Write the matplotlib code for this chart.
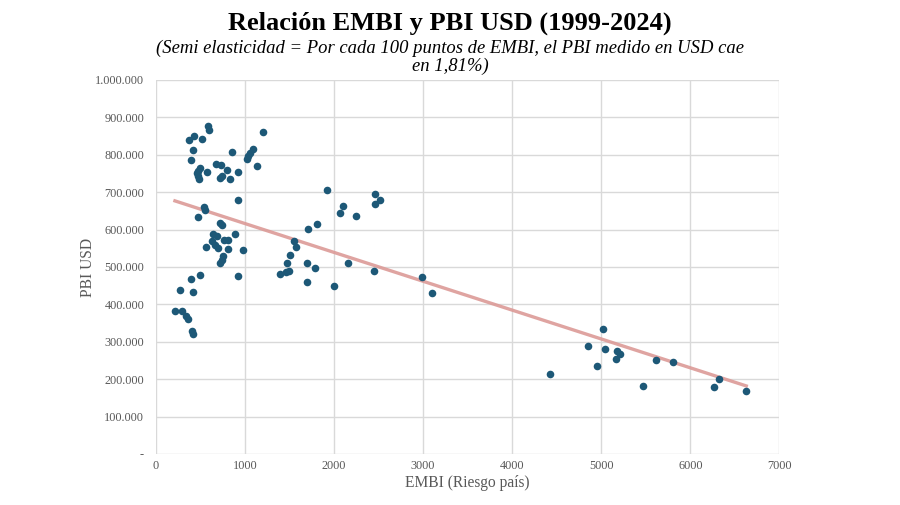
import numpy as np
import matplotlib.pyplot as plt
from matplotlib.ticker import FuncFormatter

# EMBI (puntos) y PBI USD (millones)
embi = [213, 291, 336, 364, 404, 415, 269, 418, 389, 493,
        923, 972, 557, 642, 680, 624, 661, 698, 762, 811,
        804, 886, 748, 737, 717, 717, 737, 541, 549, 474,
        923, 586, 598, 426, 370, 512, 418, 396, 1203, 849,
        1091, 1054, 1028, 1017, 1129, 669, 725, 793, 916, 493,
        474, 456, 575, 474, 485, 717, 737, 830,
        1925, 2463, 2519, 2455, 2100, 2071, 2250, 1808, 1707, 1547,
        1570, 1510, 1472, 1701, 1783, 1494, 1457, 1390, 1696, 1996,
        2160, 2444, 2982, 3102,
        5015, 4854, 5037, 5172, 5209, 5165, 4948, 5613, 5807, 4425,
        5474, 6323, 6267, 6629]
pbi = [381, 381, 368, 360, 330, 322, 438, 434, 468, 478,
       477, 545, 554, 587, 582, 569, 560, 551, 571, 571,
       547, 587, 529, 520, 511, 618, 613, 661, 652, 634,
       678, 876, 867, 851, 839, 841, 812, 787, 860, 808,
       816, 805, 796, 789, 771, 776, 773, 760, 754, 765,
       756, 752, 753, 743, 736, 738, 743, 736,
       705, 696, 678, 669, 664, 644, 637, 616, 602, 569,
       554, 533, 511, 511, 496, 490, 487, 480, 460, 449,
       511, 488, 472, 430,
       334, 288, 281, 275, 268, 255, 235, 252, 245, 214,
       183, 200, 178, 168]

x = np.array(embi, dtype=float)
y = np.array(pbi, dtype=float) * 1000

plt.rcParams['font.family'] = ['Liberation Serif', 'DejaVu Serif']

fig = plt.figure(figsize=(9, 5.05), dpi=100)
ax = fig.add_axes([0.1733, 0.101, 0.6926, 0.7406])

ax.scatter(x, y, s=30, color='#1d5877', zorder=3, linewidths=0)

# linea de tendencia lineal
coef = np.polyfit(x, y, 1)
xs = np.array([x.min(), x.max()])
ax.plot(xs, np.polyval(coef, xs), color='#dc9a97', lw=2.4, alpha=0.9, zorder=2)

ax.set_xlim(0, 7000)
ax.set_ylim(0, 1000000)
ax.set_xticks(range(0, 7001, 1000))
ax.set_yticks(range(0, 1000001, 100000))

def fmt_y(v, pos):
    if v == 0:
        return '-'
    return f"{int(v):,}".replace(',', '.')

ax.yaxis.set_major_formatter(FuncFormatter(fmt_y))
ax.grid(True, color='#d9d9d9', lw=1)
ax.set_axisbelow(True)
for s in ax.spines.values():
    s.set_visible(False)
ax.tick_params(length=0, labelsize=8.8, colors='#595959')
ax.tick_params(axis='y', pad=8.5)
ax.tick_params(axis='x', pad=4.5)

ax.set_xlabel('EMBI (Riesgo país)', fontsize=11.2, color='#595959', va='center')
ax.xaxis.set_label_coords(0.5, -0.077)
ax.set_ylabel('PBI USD', fontsize=11.2, color='#595959', va='center')
ax.yaxis.set_label_coords(-0.109, 0.5)

fig.text(0.5, 0.954, 'Relación EMBI y PBI USD (1999-2024)', ha='center', va='center',
         fontsize=19, fontweight='bold')
fig.text(0.5, 0.905, '(Semi elasticidad = Por cada 100 puntos de EMBI, el PBI medido en USD cae',
         ha='center', va='center', fontsize=13.4, style='italic')
fig.text(0.5, 0.868, 'en 1,81%)', ha='center', va='center', fontsize=13.4, style='italic')

plt.savefig('out.png', dpi=100)
